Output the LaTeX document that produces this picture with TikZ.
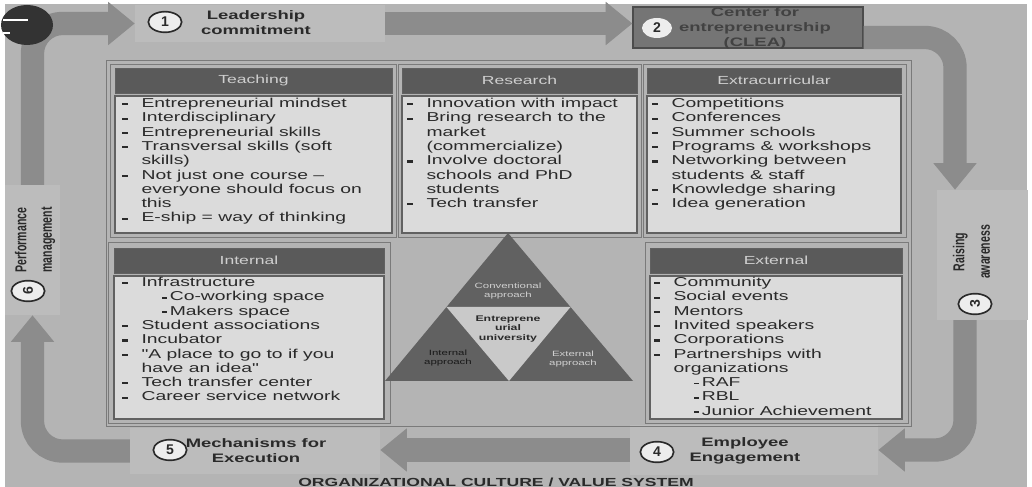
\documentclass[tikz,border=0pt]{standalone}
\usepackage{fontspec}
\usepackage{graphicx}
\usepackage{tikz}
\usetikzlibrary{arrows.meta,shapes.geometric,positioning,calc}
\newfontfamily\slide[FakeStretch=1.5]{Liberation Sans}
\newfontfamily\plainsans{Liberation Sans}

\definecolor{bgc}{HTML}{B4B4B4}
\definecolor{stepc}{HTML}{BCBCBC}
\definecolor{flowc}{HTML}{8C8C8C}
\definecolor{headc}{HTML}{5A5A5A}
\definecolor{bodyc}{HTML}{DBDBDB}
\definecolor{inkc}{HTML}{2A2A2A}
\definecolor{pale}{HTML}{CFCFCF}
\definecolor{triin}{HTML}{C9C9C9}

\newcommand{\blt}{\makebox[0.58cm][l]{\rule[0.32ex]{4.5pt}{1.8pt}}}
\newcommand{\contd}{\hspace*{0.58cm}}
\newcommand{\sblt}{\hspace*{1.2cm}\rule[0.32ex]{4pt}{1.6pt}\hspace{2.5pt}}

\begin{document}
\begin{tikzpicture}[x=0.03cm, y=-0.03cm,
    stepbox/.style={fill=stepc, inner sep=0pt},
    flow/.style={draw=flowc, line width=0.7cm, rounded corners=0.9cm, -{Triangle[length=0.8cm, width=1.25cm]}},
    numc/.style={ellipse, draw=inkc, line width=1.4pt, fill=white!93!black, inner sep=0pt, minimum width=1.0cm, minimum height=0.62cm, text=inkc, font=\plainsans\bfseries\fontsize{12}{12}\selectfont},
    steptxt/.style={align=center, inner sep=0pt, text=inkc, font=\slide\bfseries\fontsize{10.5}{12.8}\selectfont},
    sidetxt/.style={inner sep=0pt, text=inkc, font=\plainsans\bfseries\fontsize{9}{14.5}\selectfont},
    frm/.style={draw=black!52, line width=0.8pt},
    head/.style={fill=headc, draw=black!62, inner sep=0pt, minimum height=0.75cm, text=pale, font=\slide\fontsize{10}{12}\selectfont},
    body/.style={fill=bodyc, draw=black!62, line width=1.3pt, inner sep=0pt},
    items/.style={anchor=north west, align=left, inner sep=0pt, text=inkc, font=\slide\fontsize{11}{12.2}\selectfont},
    tri/.style={align=center, inner sep=0pt, font=\slide\fontsize{6.5}{7.2}\selectfont}
]
\useasboundingbox (0,0) rectangle (1032,487);
\fill[bgc] (5,4) rectangle (1027,487);

% steps of the cycle
\node[stepbox, minimum width=7.5cm, minimum height=1.11cm] (lead) at (260,23.5) {};
\node[stepbox, fill=black!54, draw=black!70, line width=1pt, minimum width=6.9cm, minimum height=1.23cm] (clea) at (748,27.5) {};
\node[stepbox, minimum width=2.73cm, minimum height=3.9cm] (aware) at (982.5,255) {};
\node[stepbox, minimum width=7.44cm, minimum height=1.5cm] (engage) at (754,450) {};
\node[stepbox, minimum width=7.5cm, minimum height=1.38cm] (mech) at (255,451) {};
\node[stepbox, minimum width=1.65cm, minimum height=3.9cm] (perf) at (32.5,250) {};

\draw[flow] (lead.east) -- (lead.east -| clea.west);
\draw[flow] ([yshift=-0.3cm]clea.east) -| ([xshift=-0.825cm]aware.north);
\draw[flow] ([xshift=-0.525cm]aware.south) |- (engage.east);
\draw[flow] (engage.west) -- (engage.west -| mech.east);
\draw[flow] (mech.west) -| (perf.south);
\draw[flow] (perf.north) |- (lead.west);

\fill[black!80] (27,25) ellipse [x radius=0.78cm, y radius=0.6cm];
\draw[white, line width=1.5pt] (3,20) -- (28,20);
\draw[white, line width=1.2pt] (3,33) -- (10,33);

% frames
\draw[frm] (106,60) rectangle (911,426);
\draw[frm] (110,64) rectangle (396,237);
\draw[frm] (398,64) rectangle (641,237);
\draw[frm] (643,64) rectangle (906,237);
\draw[frm] (108,242) rectangle (390,423);
\draw[frm] (645,242) rectangle (908,423);

% top row
\node[head, minimum width=8.31cm] (teachh) at (253.5,80.5) {Teaching};
\node[body, minimum width=8.31cm, minimum height=4.11cm] (teachb) at (253.5,164.5) {};
\node[items] (teachl) at (122,98) {\blt Entrepreneurial mindset\\
\blt Interdisciplinary\\
\blt Entrepreneurial skills\\
\blt Transversal skills (soft\\
\contd skills)\\
\blt Not just one course –\\
\contd everyone should focus on\\
\contd this\\
\blt E-ship = way of thinking};

\node[head, minimum width=7.05cm] (resh) at (519.5,80.5) {Research};
\node[body, minimum width=7.05cm, minimum height=4.11cm] (resb) at (519.5,164.5) {};
\node[items] (resl) at (407,98) {\blt Innovation with impact\\
\blt Bring research to the\\
\contd market\\
\contd (commercialize)\\
\blt Involve doctoral\\
\contd schools and PhD\\
\contd students\\
\blt Tech transfer};

\node[head, minimum width=7.62cm] (extrah) at (774,80.5) {Extracurricular};
\node[body, minimum width=7.62cm, minimum height=4.11cm] (extrab) at (774,164.5) {};
\node[items] (extral) at (652,98) {\blt Competitions\\
\blt Conferences\\
\blt Summer schools\\
\blt Programs \& workshops\\
\blt Networking between\\
\contd students \& staff\\
\blt Knowledge sharing\\
\blt Idea generation};

% bottom row
\node[head, minimum width=8.1cm] (inth) at (249,260.5) {Internal};
\node[body, minimum width=8.1cm, minimum height=4.29cm] (intb) at (249,347.5) {};
\node[items] (intl) at (122,277) {\blt Infrastructure\\
\sblt Co-working space\\
\sblt Makers space\\
\blt Student associations\\
\blt Incubator\\
\blt "A place to go to if you\\
\contd have an idea"\\
\blt Tech transfer center\\
\blt Career service network};

\node[head, minimum width=7.56cm] (exth) at (776,260.5) {External};
\node[body, minimum width=7.56cm, minimum height=4.29cm] (extb) at (776,347.5) {};
\node[items] (extl) at (654,277) {\blt Community\\
\blt Social events\\
\blt Mentors\\
\blt Invited speakers\\
\blt Corporations\\
\blt Partnerships with\\
\contd organizations\\
\sblt RAF\\
\sblt RBL\\
\sblt Junior Achievement};

% triangle
\coordinate (tA) at (508,233);
\coordinate (tL) at (385,381);
\coordinate (tR) at (633,381);
\fill[black!62] (tA) -- (tL) -- (tR) -- cycle;
\fill[triin] ($(tA)!.5!(tL)$) -- ($(tA)!.5!(tR)$) -- ($(tL)!.5!(tR)$) -- cycle;
\node[tri, text=pale] (convt) at (508,291) {Conventional\\approach};
\node[tri, text=inkc, font=\slide\bfseries\fontsize{7}{7.8}\selectfont] (univt) at (508,329) {Entreprene\\urial\\university};
\node[tri, text=black!90] (intt) at (448,358) {Internal\\approach};
\node[tri, text=pale] (extt) at (573,359) {External\\approach};

% numbers and step labels
\node[numc] (n1) at (165,22) {1};
\node[numc, draw=none, minimum width=0.9cm, minimum height=0.6cm] (n2) at (657,28) {2};
\node[numc] (n3) at (975,304) {\rotatebox{90}{3}};
\node[numc] (n4) at (657,452) {4};
\node[numc] (n5) at (170,450) {5};
\node[numc] (n6) at (28,291) {\rotatebox{90}{6}};

\node[steptxt] (leadt) at (256,23) {Leadership\\commitment};
\node[steptxt, text=black!74] (cleat) at (755,28) {Center for\\entrepreneurship\\(CLEA)};
\node[steptxt] (engaget) at (745,451) {Employee\\Engagement};
\node[steptxt] (mecht) at (256,451) {Mechanisms for\\Execution};
\node[sidetxt, rotate=90] (perft) at (34,240) {\scalebox{1}[1.5]{\begin{tabular}{@{}c@{}}Performance\\management\end{tabular}}};
\node[sidetxt, rotate=90] (awaret) at (972,252) {\scalebox{1}[1.5]{\begin{tabular}{@{}c@{}}Raising\\awareness\end{tabular}}};

\node[anchor=base, inner sep=0pt, text=inkc, font=\slide\bfseries\fontsize{10}{12}\selectfont] (culture) at (496,486) {ORGANIZATIONAL CULTURE / VALUE SYSTEM};
\end{tikzpicture}
\end{document}
